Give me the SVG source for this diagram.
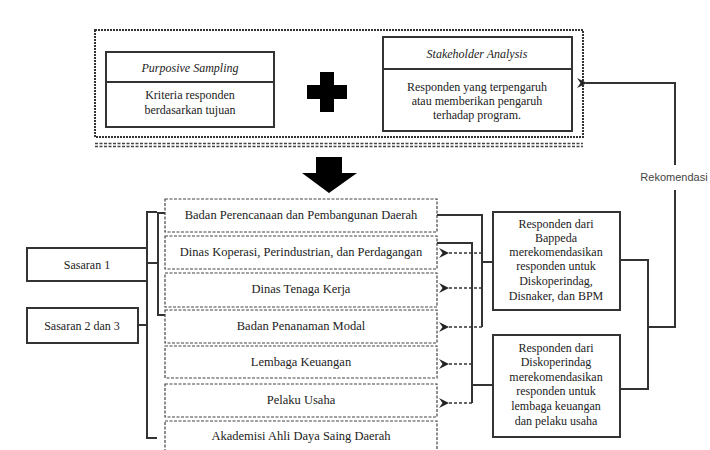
<svg xmlns="http://www.w3.org/2000/svg" width="710" height="450" viewBox="0 0 710 450">
<style>
text{font-family:"Liberation Serif","Times New Roman","DejaVu Serif",serif;font-size:12px;fill:#222;text-anchor:middle}
.it{font-style:italic}
.rt{font-size:12.5px}
.box{fill:#fff;stroke:#333;stroke-width:2}
.row{fill:#fff;stroke:#444;stroke-width:1.2;stroke-dasharray:3 1.5}
.ln{fill:none;stroke:#333;stroke-width:2}
.dl{fill:none;stroke:#333;stroke-width:1.6;stroke-dasharray:3 2}
.lbl{font-family:"Liberation Sans",Arial,sans-serif;font-size:11px;fill:#444}
</style>
<defs>
<marker id="ah" viewBox="0 0 10 10" refX="1" refY="5" markerWidth="10" markerHeight="10" markerUnits="userSpaceOnUse" orient="auto-start-reverse">
<path d="M0,5 L10,0 L6.5,5 L10,10 Z" fill="#222"/>
</marker>
</defs>

<g id="top-frame">
<rect x="95" y="30" width="488" height="107" fill="none" stroke="#333" stroke-width="2" stroke-dasharray="2 1"/>
<line x1="95" y1="143.5" x2="583" y2="143.5" stroke="#444" stroke-width="1.5" stroke-dasharray="3 1.5"/>
<line x1="95" y1="146.5" x2="583" y2="146.5" stroke="#444" stroke-width="1.5" stroke-dasharray="3 1.5"/>
</g>

<g id="purposive">
<rect class="box" x="106" y="52" width="168" height="75"/>
<line class="ln" x1="106" y1="82" x2="274" y2="82"/>
<text class="it" x="190" y="72">Purposive Sampling</text>
<text x="190" y="99">Kriteria responden</text>
<text x="190" y="114">berdasarkan tujuan</text>
</g>

<g id="plus">
<path d="M320,72 H334 V85 H347 V99 H334 V112 H320 V99 H307 V85 H320 Z" fill="#000"/>
</g>

<g id="stakeholder">
<rect class="box" x="383" y="37" width="189" height="94"/>
<line class="ln" x1="383" y1="69" x2="572" y2="69"/>
<text class="it" x="477" y="58">Stakeholder Analysis</text>
<text x="477" y="91">Responden yang terpengaruh</text>
<text x="477" y="105">atau memberikan pengaruh</text>
<text x="477" y="119">terhadap program.</text>
</g>

<g id="down-arrow">
<path d="M316,157 H342 V173 H357 L329,193 L302,173 H316 Z" fill="#000"/>
</g>

<g id="sasaran1">
<rect class="box" x="27" y="248" width="120" height="33"/>
<text x="87" y="269">Sasaran 1</text>
</g>
<g id="sasaran23">
<rect class="box" x="27" y="308" width="111" height="35"/>
<text x="82" y="330">Sasaran 2 dan 3</text>
</g>

<g id="row1"><rect class="row" x="165" y="199" width="272" height="33"/><text class="rt" x="301" y="219">Badan Perencanaan dan Pembangunan Daerah</text></g>
<g id="row2"><rect class="row" x="165" y="236" width="272" height="33"/><text class="rt" x="301" y="256">Dinas Koperasi, Perindustrian, dan Perdagangan</text></g>
<g id="row3"><rect class="row" x="165" y="273" width="272" height="34"/><text class="rt" x="301" y="293">Dinas Tenaga Kerja</text></g>
<g id="row4"><rect class="row" x="165" y="310" width="272" height="33"/><text class="rt" x="301" y="330">Badan Penanaman Modal</text></g>
<g id="row5"><rect class="row" x="165" y="346" width="272" height="32"/><text class="rt" x="301" y="366">Lembaga Keuangan</text></g>
<g id="row6"><rect class="row" x="165" y="384" width="272" height="33"/><text class="rt" x="301" y="404">Pelaku Usaha</text></g>
<g id="row7"><rect class="row" x="165" y="421" width="272" height="36"/><text class="rt" x="301" y="440">Akademisi Ahli Daya Saing Daerah</text></g>

<g id="boxA">
<rect class="box" x="493" y="212" width="127" height="98"/>
<text x="556" y="228">Responden dari</text>
<text x="556" y="242">Bappeda</text>
<text x="556" y="256">merekomendasikan</text>
<text x="556" y="270">responden untuk</text>
<text x="556" y="285">Diskoperindag,</text>
<text x="556" y="300">Disnaker, dan BPM</text>
</g>

<g id="boxB">
<rect class="box" x="493" y="335" width="127" height="102"/>
<text x="556" y="352">Responden dari</text>
<text x="556" y="366">Diskoperindag</text>
<text x="556" y="381">merekomendasikan</text>
<text x="556" y="395">responden untuk</text>
<text x="556" y="410">lembaga keuangan</text>
<text x="556" y="425">dan pelaku usaha</text>
</g>

<g id="connectors">
<path class="ln" d="M157,212 H147 V438 H157"/>
<path class="ln" d="M165,213 H158 V315 H165"/>
<path class="ln" d="M147,263 H158"/>
<path class="ln" d="M138,325 H147"/>

<path class="ln" d="M437,215 H482 V327"/>
<path class="ln" d="M437,243 H472 V403"/>
<path class="ln" d="M482,262 H493"/>
<path class="ln" d="M472,385 H493"/>
<path class="dl" d="M482,253 H448" marker-end="url(#ah)"/>
<path class="dl" d="M482,288 H448" marker-end="url(#ah)"/>
<path class="dl" d="M482,327 H448" marker-end="url(#ah)"/>
<path class="dl" d="M472,364 H448" marker-end="url(#ah)"/>
<path class="dl" d="M472,403 H448" marker-end="url(#ah)"/>

<path class="ln" d="M620,260 H648 V389 H620"/>
<path class="ln" d="M648,327 H675 V190"/>
<path class="ln" d="M675,165 V83 H586" marker-end="url(#ah)"/>
<text class="lbl" x="674" y="181">Rekomendasi</text>
</g>
</svg>
